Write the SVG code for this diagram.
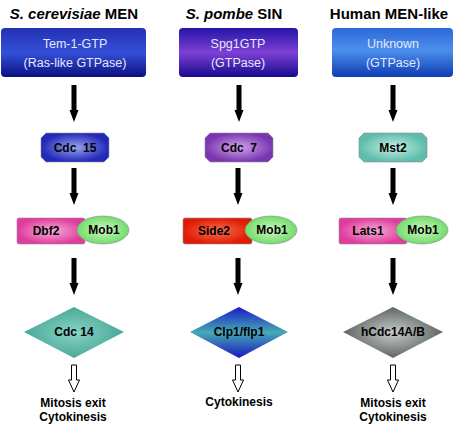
<svg xmlns="http://www.w3.org/2000/svg" width="454" height="441" viewBox="0 0 454 441">
<defs>
<linearGradient id="gTem" x1="0" y1="0" x2="0" y2="1"><stop offset="0" stop-color="#2430b4"/><stop offset="0.5" stop-color="#3450d8"/><stop offset="1" stop-color="#0c1080"/></linearGradient>
<linearGradient id="gSpg" x1="0" y1="0" x2="0" y2="1"><stop offset="0" stop-color="#2414a8"/><stop offset="0.5" stop-color="#7e40d4"/><stop offset="1" stop-color="#160a90"/></linearGradient>
<linearGradient id="gUnk" x1="0" y1="0" x2="0" y2="1"><stop offset="0" stop-color="#2c68d8"/><stop offset="0.45" stop-color="#4c90ec"/><stop offset="1" stop-color="#0e3cb4"/></linearGradient>
<radialGradient id="gCdc15"><stop offset="0" stop-color="#98a4ec"/><stop offset="1" stop-color="#2228b8"/></radialGradient>
<radialGradient id="gCdc7"><stop offset="0" stop-color="#d0a4ea"/><stop offset="1" stop-color="#7a36b0"/></radialGradient>
<radialGradient id="gMst2"><stop offset="0" stop-color="#c4f0e4"/><stop offset="1" stop-color="#5ebcaa"/></radialGradient>
<radialGradient id="gPink"><stop offset="0" stop-color="#f4b0d8"/><stop offset="1" stop-color="#e03c9c"/></radialGradient>
<radialGradient id="gRed"><stop offset="0" stop-color="#f47050"/><stop offset="1" stop-color="#e01c04"/></radialGradient>
<radialGradient id="gMob"><stop offset="0" stop-color="#d0f8c0"/><stop offset="1" stop-color="#72dc6c"/></radialGradient>
<radialGradient id="gCdc14"><stop offset="0" stop-color="#88d4c4"/><stop offset="1" stop-color="#4aa898"/></radialGradient>
<linearGradient id="gClp" x1="0" y1="0" x2="0" y2="1"><stop offset="0" stop-color="#1a1ac8"/><stop offset="0.5" stop-color="#46aab4"/><stop offset="1" stop-color="#1a14c0"/></linearGradient>
<radialGradient id="gGray"><stop offset="0" stop-color="#c8cccc"/><stop offset="1" stop-color="#5e6664"/></radialGradient>
<path id="arr" d="M-2.5,0 H2.5 V25 H4.5 L0,37 L-4.5,25 H-2.5 Z"/>
<path id="harr" d="M-2.5,0 H2.5 V15 H5.5 L0,27 L-5.5,15 H-2.5 Z"/>
</defs>
<style>
.t{font-family:"Liberation Sans",Arial,sans-serif;fill:#000;text-anchor:middle}
.title{font-size:15px;font-weight:bold}
.box{font-size:12.5px;fill:#e4e8fc}
.lab{font-size:12px;font-weight:bold}
.out{font-size:12px;font-weight:bold}
.sh{stroke:#8a8a9a;stroke-width:0.6}
.a{fill:#000}
.ha{fill:#fff;stroke:#000;stroke-width:1}
</style>

<text class="t title" x="74" y="19"><tspan font-style="italic">S. cerevisiae</tspan> MEN</text>
<text class="t title" x="234" y="19"><tspan font-style="italic">S. pombe</tspan> SIN</text>
<text class="t title" x="389" y="19">Human MEN-like</text>

<g id="tem1">
<rect x="1" y="28" width="145" height="49" rx="4" fill="url(#gTem)"/>
<text class="t box" x="75" y="48">Tem-1-GTP</text>
<text class="t box" x="75" y="67">(Ras-like GTPase)</text>
</g>
<g id="spg1">
<rect x="179" y="28" width="119" height="49" rx="4" fill="url(#gSpg)"/>
<text class="t box" x="238" y="48">Spg1GTP</text>
<text class="t box" x="238" y="67">(GTPase)</text>
</g>
<g id="unknown">
<rect x="332" y="28" width="121" height="49" rx="4" fill="url(#gUnk)"/>
<text class="t box" x="393" y="48">Unknown</text>
<text class="t box" x="393" y="67">(GTPase)</text>
</g>

<g id="cdc15">
<polygon class="sh" points="46,133 104,133 109,138 109,157 104,162 46,162 41,157 41,138" fill="url(#gCdc15)"/>
<text class="t lab" x="75" y="152" xml:space="preserve">Cdc  15</text>
</g>
<g id="cdc7">
<polygon class="sh" points="210,133 268,133 273,138 273,157 268,162 210,162 205,157 205,138" fill="url(#gCdc7)"/>
<text class="t lab" x="239" y="152" xml:space="preserve">Cdc  7</text>
</g>
<g id="mst2">
<polygon class="sh" points="364,133 422,133 427,138 427,157 422,162 364,162 359,157 359,138" fill="url(#gMst2)"/>
<text class="t lab" x="393" y="152">Mst2</text>
</g>

<g id="dbf2">
<rect class="sh" x="17" y="218" width="68" height="26" rx="2" fill="url(#gPink)"/>
<text class="t lab" x="46" y="235">Dbf2</text>
</g>
<g id="mob1a">
<ellipse class="sh" cx="103" cy="230" rx="26" ry="14" fill="url(#gMob)"/>
<text class="t lab" x="104" y="234">Mob1</text>
</g>
<g id="side2">
<rect class="sh" x="183" y="218" width="69" height="26" rx="2" fill="url(#gRed)"/>
<text class="t lab" x="214" y="235">Side2</text>
</g>
<g id="mob1b">
<ellipse class="sh" cx="271" cy="230" rx="26" ry="14" fill="url(#gMob)"/>
<text class="t lab" x="272" y="234">Mob1</text>
</g>
<g id="lats1">
<rect class="sh" x="339" y="218" width="68" height="26" rx="2" fill="url(#gPink)"/>
<text class="t lab" x="368" y="235">Lats1</text>
</g>
<g id="mob1c">
<ellipse class="sh" cx="422" cy="230" rx="26" ry="14" fill="url(#gMob)"/>
<text class="t lab" x="423" y="234">Mob1</text>
</g>

<g id="cdc14">
<polygon points="74,307 124,332 74,358 24,332" fill="url(#gCdc14)"/>
<text class="t lab" x="74" y="336">Cdc 14</text>
</g>
<g id="clp1">
<polygon points="239,307 288,332 239,358 190,332" fill="url(#gClp)"/>
<text class="t lab" x="239" y="336">Clp1/flp1</text>
</g>
<g id="hcdc14">
<polygon points="393,307 443,332 393,358 343,332" fill="url(#gGray)"/>
<text class="t lab" x="393" y="336">hCdc14A/B</text>
</g>

<g id="out1">
<text class="t out" x="73" y="407">Mitosis exit</text>
<text class="t out" x="73" y="421">Cytokinesis</text>
</g>
<g id="out2">
<text class="t out" x="239" y="406">Cytokinesis</text>
</g>
<g id="out3">
<text class="t out" x="393" y="407">Mitosis exit</text>
<text class="t out" x="393" y="421">Cytokinesis</text>
</g>

<g id="connectors">
<use class="a" href="#arr" x="74" y="85"/>
<use class="a" href="#arr" x="74" y="168"/>
<use class="a" href="#arr" x="74" y="258"/>
<use class="ha" href="#harr" x="74" y="365"/>
<use class="a" href="#arr" x="239" y="85"/>
<use class="a" href="#arr" x="238" y="168"/>
<use class="a" href="#arr" x="238" y="258"/>
<use class="ha" href="#harr" x="238" y="365"/>
<use class="a" href="#arr" x="393" y="85"/>
<use class="a" href="#arr" x="393" y="168"/>
<use class="a" href="#arr" x="393" y="258"/>
<use class="ha" href="#harr" x="393" y="365"/>
</g>
</svg>
